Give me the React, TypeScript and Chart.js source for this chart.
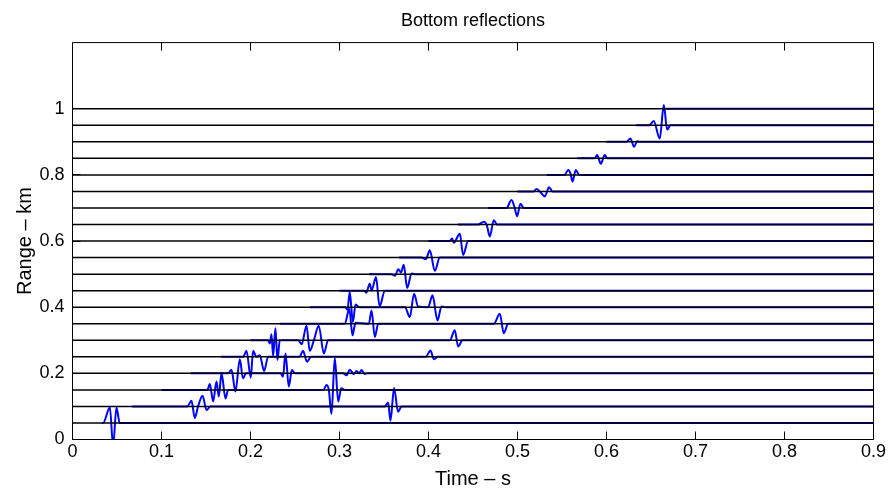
import { useEffect, useRef } from "react";
import { Chart, registerables } from "chart.js";

Chart.register(...registerables);

// Range of each trace (km) and the time where each blue trace begins (s)
const ranges = [0.05, 0.1, 0.15, 0.2, 0.25, 0.3, 0.35, 0.4, 0.45, 0.5, 0.55, 0.6, 0.65, 0.7, 0.75, 0.8, 0.85, 0.9, 0.95, 1.0];
const traceStarts = [0.033, 0.067, 0.1, 0.133, 0.167, 0.2, 0.233, 0.267, 0.3, 0.333, 0.367, 0.4, 0.433, 0.467, 0.5, 0.533, 0.567, 0.6, 0.633, 0.667];
const traceEnd = 0.9;

const xTicks = [0, 0.1, 0.2, 0.3, 0.4, 0.5, 0.6, 0.7, 0.8, 0.9];
const yTicks = [0, 0.2, 0.4, 0.6, 0.8, 1];

// Wavelet vertices per trace: [time s, amplitude about the trace's range]
const w005 = [[0.0344, 0], [0.042, 0.047], [0.0456, -0.07], [0.0494, 0.047], [0.053, 0]];
const w010 = [[0.129, 0], [0.1337, 0.017], [0.1374, -0.035], [0.1411, 0], [0.1461, 0.0325], [0.1506, -0.011], [0.155, 0],
  [0.3509, 0], [0.3546, 0.012], [0.3573, -0.043], [0.3613, 0.056], [0.3658, -0.016], [0.3697, 0]];
const w015 = [[0.1516, 0], [0.1543, 0.018], [0.158, -0.035], [0.1618, 0.025], [0.1644, -0.02], [0.1674, 0.05], [0.1719, -0.026], [0.1749, 0],
  [0.282, 0], [0.2854, 0.015], [0.288, 0], [0.291, -0.073], [0.2947, 0.097], [0.2985, -0.035], [0.302, 0.005], [0.306, 0]];
const w020 = [[0.1749, 0], [0.1786, 0.011], [0.1831, -0.055], [0.188, 0.043], [0.1915, -0.015], [0.195, 0],
  [0.234, 0], [0.2365, -0.01], [0.2393, 0.06], [0.243, -0.04], [0.2465, 0.01], [0.25, 0],
  [0.304, 0], [0.3079, -0.006], [0.3116, 0.011], [0.316, -0.002], [0.3191, 0.007], [0.322, 0], [0.3247, 0.01], [0.3284, -0.002], [0.331, 0]];
const w025 = [[0.1917, 0], [0.1955, 0.018], [0.2003, -0.063], [0.2029, 0.018], [0.2067, 0], [0.2104, 0.005], [0.2153, -0.043], [0.2198, 0],
  [0.255, 0], [0.259, 0.018], [0.2635, -0.015], [0.268, 0],
  [0.397, 0], [0.4022, 0.019], [0.406, -0.007], [0.4108, 0]];
const w030 = [[0.2198, 0], [0.2217, -0.01], [0.2236, 0.018], [0.2254, -0.048], [0.228, 0.036], [0.2303, -0.06], [0.2329, 0],
  [0.2535, 0], [0.2575, -0.012], [0.2629, 0.044], [0.2666, -0.032], [0.271, -0.002], [0.2767, 0.044], [0.2824, -0.04], [0.2872, 0],
  [0.424, 0], [0.4295, 0.03], [0.4333, -0.019], [0.4382, 0]];
const w035 = [[0.306, 0], [0.311, 0.045], [0.3146, -0.035], [0.318, 0.003], [0.333, 0], [0.336, 0.04], [0.3397, -0.04], [0.3435, 0],
  [0.4734, 0], [0.4801, 0.03], [0.4846, -0.0285], [0.4895, 0]];
const w040 = [[0.3065, 0], [0.309, -0.008], [0.3115, 0.046], [0.315, -0.045], [0.318, 0.008], [0.3225, 0],
  [0.3736, 0], [0.379, -0.03], [0.3838, 0.041], [0.3883, 0.002], [0.3996, 0], [0.4045, 0.036], [0.4101, -0.04], [0.4146, 0.002], [0.4202, 0]];
const w045 = [[0.328, 0], [0.33, -0.006], [0.334, 0.021], [0.336, 0], [0.341, 0.041], [0.345, -0.0475], [0.351, 0]];
const w050 = [[0.358, 0], [0.3625, -0.005], [0.366, 0.015], [0.369, 0.005], [0.3722, 0.028], [0.376, -0.042], [0.381, 0.002], [0.384, 0]];
const w055 = [[0.392, 0], [0.397, -0.005], [0.4015, 0.022], [0.4071, -0.04], [0.4127, 0]];
const w060 = [[0.424, 0], [0.4265, 0.008], [0.4284, -0.005], [0.4352, 0.022], [0.4389, -0.042], [0.4445, 0]];
const w065 = [[0.4558, 0], [0.4622, 0.008], [0.4655, -0.002], [0.4689, -0.036], [0.4734, 0.013], [0.477, 0]];
const w070 = [[0.4876, 0], [0.4933, 0.024], [0.4969, 0], [0.4995, -0.025], [0.5033, 0.013], [0.507, 0]];
const w075 = [[0.518, 0], [0.5213, 0.007], [0.5251, 0], [0.5307, -0.015], [0.5355, 0.013], [0.5393, 0]];
const w080 = [[0.553, 0], [0.5569, 0.015], [0.5596, 0.004], [0.5618, -0.02], [0.5655, 0.015], [0.5692, 0]];
const w085 = [[0.5869, 0], [0.5894, 0.01], [0.5936, -0.016], [0.5981, 0.01], [0.601, 0]];
const w090 = [[0.6224, 0], [0.6269, 0.01], [0.631, -0.015], [0.6344, 0.002], [0.637, 0]];
const w095 = [[0.648, 0], [0.6531, 0.013], [0.6598, -0.04], [0.6644, 0.061], [0.6681, -0.013], [0.6719, 0]];
const w100: number[][] = [];

const wavelets = [w005, w010, w015, w020, w025, w030, w035, w040, w045, w050,
  w055, w060, w065, w070, w075, w080, w085, w090, w095, w100];

const FONT = "'Liberation Sans', Arial, Helvetica, sans-serif";

const fmt = (v: number) => String(Math.round(v * 10) / 10);

const framePlugin = {
  id: "frame",
  afterDatasetsDraw(chart: any) {
    const { ctx, chartArea, scales } = chart;
    const { left, right, top, bottom } = chartArea;
    const tl = 8;
    ctx.save();
    ctx.strokeStyle = "#000";
    ctx.lineWidth = 1;
    ctx.beginPath();
    ctx.rect(left, top, right - left, bottom - top);
    for (const v of xTicks) {
      const px = Math.round(scales.x.getPixelForValue(v) - 0.5) + 0.5;
      ctx.moveTo(px, bottom); ctx.lineTo(px, bottom - tl);
      ctx.moveTo(px, top); ctx.lineTo(px, top + tl);
    }
    for (const v of yTicks) {
      const py = Math.round(scales.y.getPixelForValue(v) - 0.5) + 0.5;
      ctx.moveTo(left, py); ctx.lineTo(left + tl, py);
      ctx.moveTo(right, py); ctx.lineTo(right - tl, py);
    }
    ctx.stroke();
    ctx.restore();
  },
};

export default function App() {
  const ref = useRef<HTMLCanvasElement>(null);

  useEffect(() => {
    document.body.style.margin = "0";
    const canvas = ref.current;
    if (!canvas) return;

    const datasets: any[] = [];
    ranges.forEach((r, i) => {
      // black reference line across the full time span (drawn on top)
      datasets.push({
        data: [{ x: 0, y: r }, { x: traceEnd, y: r }],
        borderColor: "#000000",
        borderWidth: 1.5,
        pointRadius: 0,
        order: 0,
        clip: 0,
      });
      const pts = [{ x: traceStarts[i], y: r }];
      for (const [t, a] of wavelets[i]) pts.push({ x: t, y: r + a });
      pts.push({ x: traceEnd, y: r });
      datasets.push({
        data: pts,
        borderColor: "#0000ff",
        borderWidth: 2,
        pointRadius: 0,
        cubicInterpolationMode: "monotone",
        order: 1,
        clip: 0,
      });
    });

    const chart = new Chart(canvas, {
      type: "line",
      data: { datasets },
      plugins: [framePlugin],
      options: {
        animation: false,
        responsive: false,
        devicePixelRatio: 1,
        layout: { padding: { left: 0, right: 15.5, top: 0, bottom: 0 } },
        plugins: {
          legend: { display: false },
          tooltip: { enabled: false },
          title: {
            display: true,
            fullSize: false,
            text: "Bottom reflections",
            color: "#000",
            font: { family: FONT, size: 18, weight: "normal", lineHeight: 1.2 },
            padding: { top: 10, bottom: 11 },
          },
        },
        scales: {
          x: {
            type: "linear",
            min: 0,
            max: 0.9,
            afterBuildTicks: (s: any) => { s.ticks = xTicks.map((v) => ({ value: v })); },
            afterFit: (s: any) => { s.height = 52.5; },
            grid: { display: false, drawTicks: false },
            border: { display: false },
            ticks: {
              color: "#000",
              font: { family: FONT, size: 18 },
              padding: 2,
              maxRotation: 0,
              autoSkip: false,
              callback: (v: any) => fmt(Number(v)),
            },
            title: {
              display: true,
              text: "Time \u2013 s",
              color: "#000",
              font: { family: FONT, size: 20, lineHeight: 1.2 },
              padding: { top: 0, bottom: 1 },
            },
          },
          y: {
            type: "linear",
            min: 0,
            max: 1.2,
            afterBuildTicks: (s: any) => { s.ticks = yTicks.map((v) => ({ value: v })); },
            afterFit: (s: any) => { s.width = 72.5; },
            grid: { display: false, drawTicks: false },
            border: { display: false },
            ticks: {
              color: "#000",
              font: { family: FONT, size: 18 },
              padding: 8,
              autoSkip: false,
              callback: (v: any) => fmt(Number(v)),
            },
            title: {
              display: true,
              text: "Range \u2013 km",
              color: "#000",
              font: { family: FONT, size: 20, lineHeight: 1.2 },
              padding: { top: 13, bottom: 0 },
            },
          },
        },
      },
    });

    return () => chart.destroy();
  }, []);

  return (
    <div style={{ width: 889, height: 492, background: "#fff" }}>
      <canvas ref={ref} width={889} height={492} style={{ display: "block" }} />
    </div>
  );
}
